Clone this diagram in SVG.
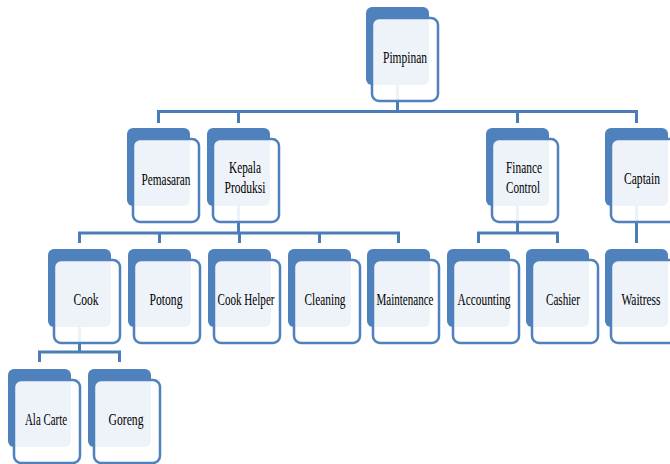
<svg xmlns="http://www.w3.org/2000/svg" width="670" height="464" viewBox="0 0 670 464">
<defs>
<style>
.back{fill:#4F81BD;}
.front{fill:#FFFFFF;fill-opacity:0.9;stroke:#4F81BD;stroke-width:2.5;}
.conn{fill:none;stroke:#4A7CB8;stroke-width:3;}
.t{font-family:"Liberation Serif","Times New Roman",serif;font-size:17px;fill:#000;text-anchor:middle;}
</style>
<g id="node-shape">
<rect class="back" x="0" y="0" width="63" height="78" rx="6"/>
<rect class="front" x="6" y="11" width="66" height="83" rx="7"/>
</g>
</defs>
<rect width="670" height="464" fill="#FFFFFF"/>
<g id="connectors">
<path class="conn" d="M397.5 85 V111.5 M158.5 123 V111.5 H636.5 V123 M238.5 111.5 V123 M517.5 111.5 V123"/>
<path class="conn" d="M238.5 206 V233 M79.5 243 V233 H398.5 V243 M159.5 233 V243 M239.5 233 V243 M319.5 233 V243"/>
<path class="conn" d="M517.5 206 V233 M478.5 243 V233 H557.5 V243"/>
<path class="conn" d="M636.5 206 V243"/>
<path class="conn" d="M79.5 327 V352 M39.5 362 V352 H119.5 V362"/>
</g>
<g id="pimpinan"><use href="#node-shape" x="366" y="7"/><text class="t" x="405" y="63" textLength="44" lengthAdjust="spacingAndGlyphs">Pimpinan</text></g>
<g id="pemasaran"><use href="#node-shape" x="127" y="128"/><text class="t" x="166" y="185" textLength="49" lengthAdjust="spacingAndGlyphs">Pemasaran</text></g>
<g id="kepala-produksi"><use href="#node-shape" x="207" y="128"/><text class="t" x="245" y="173" textLength="32" lengthAdjust="spacingAndGlyphs">Kepala</text><text class="t" x="245" y="193" textLength="41" lengthAdjust="spacingAndGlyphs">Produksi</text></g>
<g id="finance-control"><use href="#node-shape" x="486" y="128"/><text class="t" x="524" y="173" textLength="36" lengthAdjust="spacingAndGlyphs">Finance</text><text class="t" x="523" y="193" textLength="34" lengthAdjust="spacingAndGlyphs">Control</text></g>
<g id="captain"><use href="#node-shape" x="605" y="128"/><text class="t" x="642" y="184" textLength="36" lengthAdjust="spacingAndGlyphs">Captain</text></g>
<g id="cook"><use href="#node-shape" x="48" y="249"/><text class="t" x="86" y="305" textLength="25" lengthAdjust="spacingAndGlyphs">Cook</text></g>
<g id="potong"><use href="#node-shape" x="128" y="249"/><text class="t" x="166" y="305" textLength="33" lengthAdjust="spacingAndGlyphs">Potong</text></g>
<g id="cook-helper"><use href="#node-shape" x="208" y="249"/><text class="t" x="246" y="305" textLength="57" lengthAdjust="spacingAndGlyphs">Cook Helper</text></g>
<g id="cleaning"><use href="#node-shape" x="288" y="249"/><text class="t" x="325" y="305" textLength="41" lengthAdjust="spacingAndGlyphs">Cleaning</text></g>
<g id="maintenance"><use href="#node-shape" x="367" y="249"/><text class="t" x="405" y="305" textLength="57" lengthAdjust="spacingAndGlyphs">Maintenance</text></g>
<g id="accounting"><use href="#node-shape" x="447" y="249"/><text class="t" x="484" y="305" textLength="53" lengthAdjust="spacingAndGlyphs">Accounting</text></g>
<g id="cashier"><use href="#node-shape" x="526" y="249"/><text class="t" x="563" y="305" textLength="34" lengthAdjust="spacingAndGlyphs">Cashier</text></g>
<g id="waitress"><use href="#node-shape" x="605" y="249"/><text class="t" x="641" y="305" textLength="39" lengthAdjust="spacingAndGlyphs">Waitress</text></g>
<g id="ala-carte"><use href="#node-shape" x="8" y="369"/><text class="t" x="46" y="425" textLength="42" lengthAdjust="spacingAndGlyphs">Ala Carte</text></g>
<g id="goreng"><use href="#node-shape" x="88" y="369"/><text class="t" x="126" y="425" textLength="35" lengthAdjust="spacingAndGlyphs">Goreng</text></g>
</svg>
